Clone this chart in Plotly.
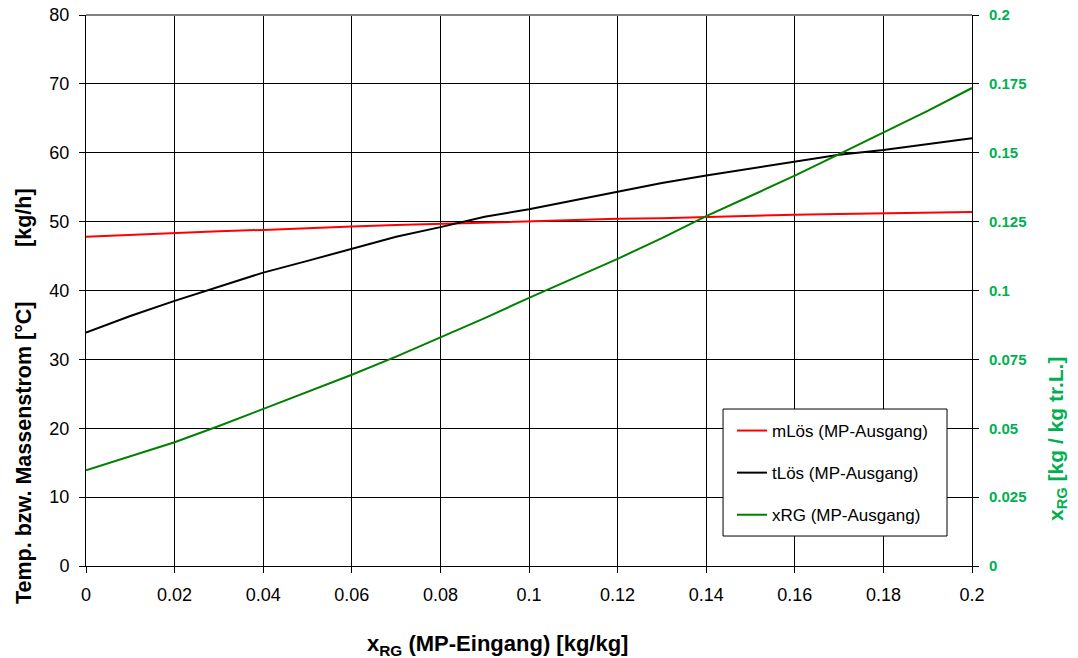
import plotly.graph_objects as go

x_in = [0, 0.01, 0.02, 0.03, 0.04, 0.05, 0.06, 0.07, 0.08, 0.09, 0.10,
        0.11, 0.12, 0.13, 0.14, 0.15, 0.16, 0.17, 0.18, 0.19, 0.20]
m_loes = [47.8, 48.1, 48.4, 48.6, 48.8, 49.1, 49.3, 49.5, 49.7, 49.9, 50.0,
          50.2, 50.4, 50.5, 50.7, 50.9, 51.0, 51.1, 51.2, 51.4, 51.4]
t_loes = [33.9, 36.3, 38.5, 40.6, 42.6, 44.3, 46.0, 47.8, 49.2, 50.7, 51.8,
          53.1, 54.4, 55.6, 56.7, 57.7, 58.7, 59.7, 60.4, 61.3, 62.1]
x_rg = [0.0347, 0.0397, 0.0449, 0.0508, 0.0570, 0.0630, 0.0694, 0.0760, 0.0830,
        0.0900, 0.0973, 0.1043, 0.1115, 0.1190, 0.1270, 0.1343, 0.1417, 0.1495,
        0.1574, 0.1652, 0.1735]

names = ["mLös (MP-Ausgang)", "tLös (MP-Ausgang)", "xRG (MP-Ausgang)"]

FONT = "Liberation Sans, Arial, sans-serif"
GREEN_TXT = "#00B050"

fig = go.Figure()
fig.add_trace(go.Scatter(x=x_in, y=m_loes, mode="lines", name=names[0],
                         line=dict(color="#FF0000", width=2), legendgroup="a"))
fig.add_trace(go.Scatter(x=x_in, y=t_loes, mode="lines", name=names[1],
                         line=dict(color="#000000", width=2), legendgroup="b"))
fig.add_trace(go.Scatter(x=x_in, y=x_rg, mode="lines", name=names[2], yaxis="y2",
                         line=dict(color="#008000", width=2), legendgroup="c"))

fig.update_layout(
    width=1078, height=658,
    margin=dict(l=86, r=106, t=15, b=92, autoexpand=False),
    paper_bgcolor="white", plot_bgcolor="white",
    font=dict(family=FONT, color="black", size=18),
    showlegend=True,
    legend=dict(x=0.7291, y=0.2777, xanchor="left", yanchor="top",
                borderwidth=0, bgcolor="rgba(0,0,0,0)",
                font=dict(size=17, color="black"), tracegroupgap=17),
    xaxis=dict(range=[0, 0.2], dtick=0.02, tick0=0, automargin=False,
               showgrid=True, gridcolor="black", gridwidth=1,
               showline=True, linecolor="black", linewidth=1,
               ticks="outside", ticklen=6, tickcolor="black",
               ticklabelstandoff=6, zeroline=False,
               tickfont=dict(size=18)),
    yaxis=dict(range=[0, 80], dtick=10, tick0=0, automargin=False,
               showgrid=True, gridcolor="black", gridwidth=1,
               showline=True, linecolor="black", linewidth=1,
               ticks="outside", ticklen=6, tickcolor="black",
               ticklabelstandoff=6, zeroline=False,
               tickfont=dict(size=18)),
    yaxis2=dict(range=[0, 0.2], dtick=0.025, tick0=0, overlaying="y", side="right",
                automargin=False,
                showgrid=False, showline=True, linecolor="black", linewidth=1,
                ticks="outside", ticklen=6, tickcolor="black",
                ticklabelstandoff=7, zeroline=False,
                tickfont=dict(size=15, color=GREEN_TXT, weight="bold")),
)

# plot-area top border (gray) and legend frame
fig.add_shape(type="line", xref="paper", yref="paper", x0=0, x1=1, y0=1, y1=1,
              line=dict(color="#808080", width=2), layer="above")
fig.add_shape(type="rect", xref="paper", yref="paper", x0=0.7190, x1=0.9718,
              y0=0.0544, y1=0.2849, line=dict(color="black", width=1),
              fillcolor="white", layer="above")

fig.add_annotation(text="x<sub>RG</sub> (MP-Eingang) [kg/kg]", xref="paper", yref="paper",
                   x=0.4639, y=-0.1434, xanchor="center", yanchor="middle",
                   showarrow=False, font=dict(size=22, color="black", weight="bold"))
fig.add_annotation(text="Temp. bzw. Massenstrom [°C]", xref="paper", yref="paper",
                   x=-0.0700, y=0.2050, xanchor="center", yanchor="middle", textangle=-90,
                   showarrow=False, font=dict(size=21.5, color="black", weight="bold"))
fig.add_annotation(text="[kg/h]", xref="paper", yref="paper",
                   x=-0.0700, y=0.6334, xanchor="center", yanchor="middle", textangle=-90,
                   showarrow=False, font=dict(size=21.5, color="black", weight="bold"))
fig.add_annotation(text="x<sub>RG</sub> [kg / kg tr.L.]", xref="paper", yref="paper",
                   x=1.0959, y=0.2305, xanchor="center", yanchor="middle", textangle=-90,
                   showarrow=False, font=dict(size=21, color=GREEN_TXT, weight="bold"))

fig.write_html("out.html")
